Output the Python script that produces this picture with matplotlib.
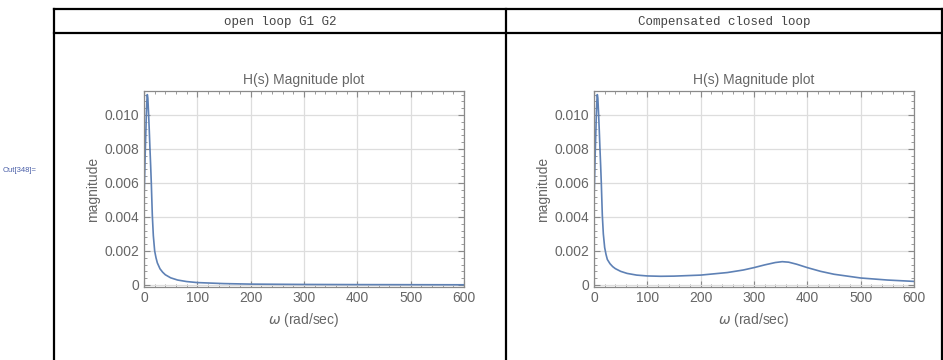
import numpy as np
import matplotlib
matplotlib.use("Agg")
import matplotlib.pyplot as plt
from matplotlib.ticker import MultipleLocator, FixedLocator, FixedFormatter
from matplotlib.lines import Line2D

# values
w_open = [0, 1, 2.5, 4.4, 5.5, 6.2, 7.2, 8.7, 10, 11.2, 12.5, 13.7, 14.7, 15.6, 17.5,
          20, 22.5, 25, 30, 35, 40, 50, 63, 80, 100, 150, 200, 300, 400, 500, 600]
mag_open = [0.0050, 0.0062, 0.0080, 0.0100, 0.0109, 0.0112, 0.0110, 0.0100, 0.0090,
            0.0080, 0.0070, 0.0060, 0.0050, 0.0041, 0.0029, 0.0020, 0.0016, 0.0013,
            0.00095, 0.00075, 0.00060, 0.00042, 0.00029, 0.00020, 0.00014, 0.00008,
            0.00005, 0.00003, 0.00002, 0.000015, 0.00001]

w_comp = [0, 1, 2.5, 4.4, 5.5, 6.2, 7.2, 8.7, 10, 11.2, 12.5, 13.7, 14.7, 15.6, 17.5,
          20, 22.5, 25, 30, 35, 40, 50, 62, 80, 100, 125, 150, 200, 250, 280, 300, 320,
          340, 353, 365, 380, 400, 425, 450, 500, 550, 600]
mag_comp = [0.0050, 0.0062, 0.0080, 0.0100, 0.0109, 0.0112, 0.0110, 0.0100, 0.0090,
            0.0080, 0.0070, 0.0060, 0.0050, 0.0041, 0.0030, 0.0022, 0.0018, 0.0015,
            0.00125, 0.00108, 0.00096, 0.00080, 0.00068, 0.00058, 0.00053, 0.00051,
            0.00052, 0.00058, 0.00073, 0.00088, 0.00102, 0.00118, 0.00132, 0.00137,
            0.00134, 0.00122, 0.00102, 0.00080, 0.00063, 0.00041, 0.00029, 0.00021]

headers = ["open loop G1 G2", "Compensated closed loop"]
xticks = [0, 100, 200, 300, 400, 500, 600]
yticks = [0, 0.002, 0.004, 0.006, 0.008, 0.010]
ylabels = ["0", "0.002", "0.004", "0.006", "0.008", "0.010"]

line_col = "#5E81B5"
text_col = "#666666"
frame_col = "#8a8a8a"

plt.rcParams['font.family'] = ['Liberation Sans', 'DejaVu Sans']

fig = plt.figure(figsize=(9.43, 3.6), dpi=100)

W, H = 943.0, 360.0

def fx(px):
    return px / W

def fy(py):
    return 1 - py / H

# table frame drawn in figure pixels
for seg in [((53.5, 53.5), (9, 360)), ((506, 506), (9, 360)), ((942, 942), (9, 360)),
            ((53.5, 942), (9, 9)), ((53.5, 942), (33, 33))]:
    fig.add_artist(Line2D([fx(seg[0][0]), fx(seg[0][1])], [fy(seg[1][0]), fy(seg[1][1])],
                          color="black", lw=1.6, transform=fig.transFigure))

fig.text(fx(280), fy(21.5), headers[0], family="Liberation Mono", fontsize=9,
         color="#444444", ha="center", va="center")
fig.text(fx(724), fy(21.5), headers[1], family="Liberation Mono", fontsize=9,
         color="#444444", ha="center", va="center")
fig.text(fx(3), fy(170), "Out[348]=", fontsize=5.5, color="#4a5fa8", ha="left", va="center")

def panel(left, w, mag):
    ax = fig.add_axes([fx(left), fy(287), 320 / W, 196 / H])
    ax.plot(w, mag, color=line_col, lw=1.2, solid_joinstyle="round")
    ax.set_xlim(0, 600)
    ax.set_ylim(-0.00012, 0.01141)
    ax.xaxis.set_major_locator(FixedLocator(xticks))
    ax.yaxis.set_major_locator(FixedLocator(yticks))
    ax.yaxis.set_major_formatter(FixedFormatter(ylabels))
    ax.xaxis.set_minor_locator(MultipleLocator(20))
    ax.yaxis.set_minor_locator(MultipleLocator(0.0004))
    ax.grid(True, which="major", color="#dddddd", lw=0.9)
    ax.set_axisbelow(True)
    ax.tick_params(which="both", direction="in", top=True, right=True,
                   colors=frame_col, labelcolor=text_col, labelsize=10)
    ax.tick_params(which="major", length=4, width=0.8)
    ax.tick_params(which="minor", length=2, width=0.6)
    ax.tick_params(axis="x", pad=3)
    for s in ax.spines.values():
        s.set_color(frame_col)
        s.set_linewidth(0.9)
    ax.set_title("H(s) Magnitude plot", fontsize=10, color=text_col, pad=5)
    ax.set_xlabel(r"$\omega$ (rad/sec)", fontsize=10, color=text_col, labelpad=4)
    ax.set_ylabel("magnitude", fontsize=10, color=text_col, labelpad=3)
    return ax

panel(144, w_open, mag_open)
panel(594, w_comp, mag_comp)

fig.savefig("out.png", dpi=100)
